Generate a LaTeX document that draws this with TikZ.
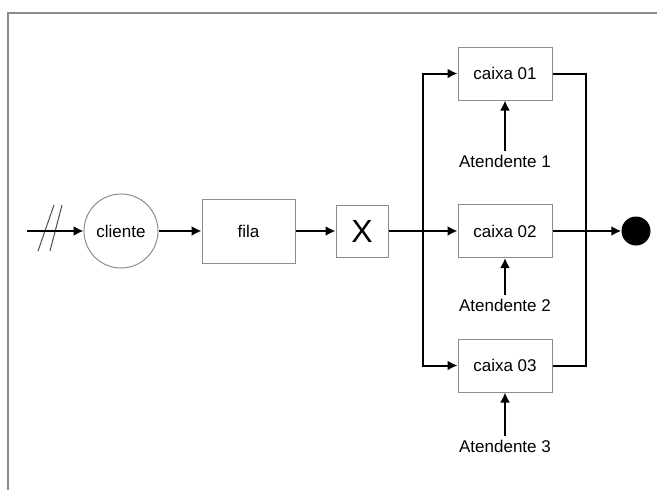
\documentclass[tikz,border=0pt]{standalone}
\usepackage{fontspec}
\setmainfont{Liberation Sans}
\usetikzlibrary{arrows.meta}

\begin{document}
\begin{tikzpicture}[x=1pt,y=-1pt]
                    \tikzstyle{caixa}=[draw=black!45,line width=1pt,inner sep=0pt,minimum width=94pt,minimum height=53pt,font=\fontsize{17}{20}\selectfont]
                    \tikzstyle{rotulo}=[inner sep=0pt,font=\fontsize{17}{20}\selectfont]
                    \tikzstyle{seta}=[line width=2pt,-{Latex[length=10pt,width=10pt]}]
                    \tikzstyle{linha}=[line width=2pt]
                    \useasboundingbox (0,0) rectangle (657,490);
                    \draw [black!45,line width=1.3pt] (8,490) -- (8,13) -- (657,13);

                    \node (cli) at (121,231) [circle,draw=black!45,line width=1pt,inner sep=0pt,minimum size=74pt,font=\fontsize{17}{20}\selectfont] {cliente};
                    \node (fila) at (248.5,231) [caixa,minimum width=93pt,minimum height=64pt] {fila};
                    \node (x) at (362,231) [caixa,minimum width=52pt,minimum height=52pt,font=\fontsize{32}{36}\selectfont] {X};

                    \node (c1) at (505,73.5) [caixa] {caixa 01};
                    \node (c2) at (505,231) [caixa] {caixa 02};
                    \node (c3) at (505,365.5) [caixa] {caixa 03};

                    \node (a1) at (505,161) [rotulo] {Atendente 1};
                    \node (a2) at (505,305) [rotulo] {Atendente 2};
                    \node (a3) at (505,446) [rotulo] {Atendente 3};

                    \node (fim) at (636,231) [circle,fill=black,inner sep=0pt,minimum size=29pt] {};

                    \coordinate (in) at (27,231);
                    \coordinate (s) at (423,231);
                    \coordinate (m) at (586,231);

                    \draw [black!70,line width=1pt] (38,251) -- (54,205);
                    \draw [black!70,line width=1pt] (50,251) -- (62,205);

                    \draw [seta] (in) -- (cli);
                    \draw [seta] (cli) -- (fila);
                    \draw [seta] (fila) -- (x);
                    \draw [linha] (x) -- (s);
                    \draw [seta] (s) |- (c1);
                    \draw [seta] (s) -- (c2);
                    \draw [seta] (s) |- (c3);

                    \draw [linha] (c1) -| (m);
                    \draw [linha] (c3) -| (m);
                    \draw [seta] (c2) -- (fim);

                    \draw [seta] ([yshift=4pt]a1.north) -- (c1);
                    \draw [seta] ([yshift=4pt]a2.north) -- (c2);
                    \draw [seta] ([yshift=4pt]a3.north) -- (c3);
                \end{tikzpicture}
\end{document}
